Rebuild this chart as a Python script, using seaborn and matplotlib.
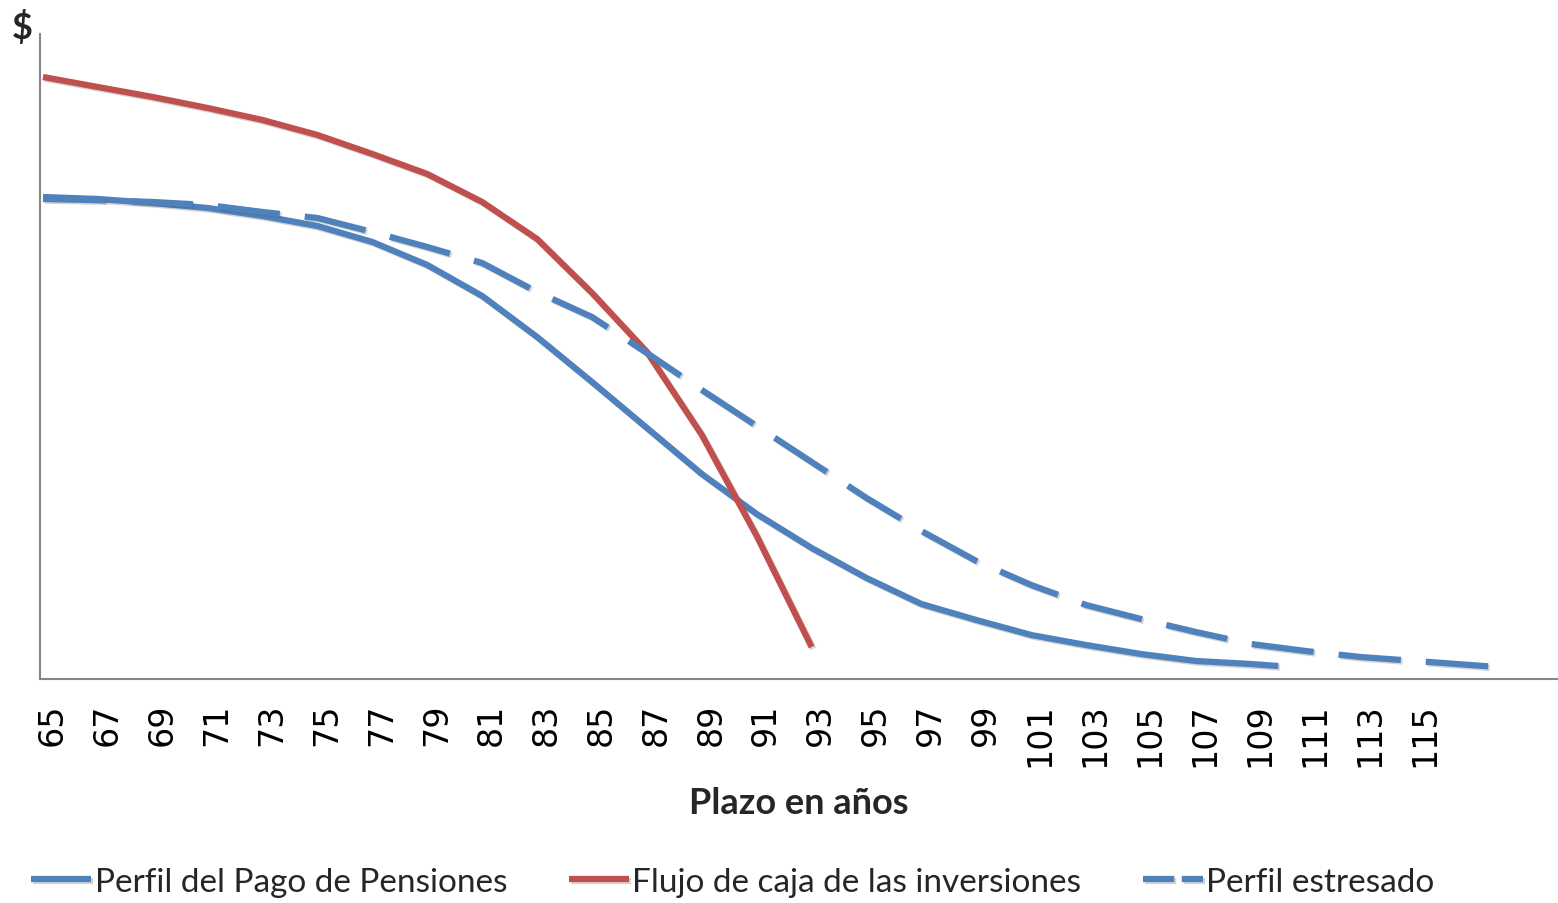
import matplotlib
matplotlib.use("Agg")

import matplotlib.pyplot as plt
import matplotlib.patheffects as pe
import matplotlib.transforms as mtransforms
from matplotlib.lines import Line2D
import seaborn as sns

# ---------------------------------------------------------------------------
# Data (arbitrary $ units)
# ---------------------------------------------------------------------------
pension_years = [65, 67, 69, 71, 73, 75, 77, 79, 81, 83, 85, 87, 89, 91,
                 93, 95, 97, 99, 101, 103, 105, 107, 109, 110]
pension_values = [482, 480, 476, 471, 463, 453, 437, 414, 383, 342, 297, 251,
                  205, 165, 131, 101, 75, 59, 44, 34, 25, 18, 15, 13]

invest_years = [65, 67, 69, 71, 73, 75, 77, 79, 81, 83, 85, 87, 89, 91, 93]
invest_values = [602, 592, 582, 571, 559, 544, 525, 505, 477, 440, 386, 327,
                 244, 143, 32]

stress_years = [65, 67, 69, 71, 73, 75, 77, 79, 81, 83, 85, 87, 89, 91,
                93, 95, 97, 99, 101, 103, 105, 107, 109, 111, 113, 115, 117, 118]
stress_values = [480, 479, 477, 474, 467, 461, 447, 432, 416, 387, 362, 326,
                 289, 253, 217, 181, 148, 118, 94, 74, 60, 47, 35, 28, 22, 18,
                 14, 12]

tick_years = list(range(65, 116, 2))

labels = ["Perfil del Pago de Pensiones",
          "Flujo de caja de las inversiones",
          "Perfil estresado"]

BLUE = "#4F81BD"
RED = "#C0504D"
AXIS_GREY = "#868686"
LW = 4.5
DASH = (10, 4)

sns.set_theme(style="white")
plt.rcParams["font.family"] = ["Lato", "DejaVu Sans"]

fig = plt.figure(figsize=(15.58, 9.04), dpi=100)
ax = fig.add_axes([40 / 1558, 1 - 680 / 904, 1 - 40 / 1558, (680 - 35) / 904])

shadow = [pe.SimpleLineShadow(offset=(1.2, -1.2), alpha=0.25, shadow_color="#555555"),
          pe.Normal()]

sns.lineplot(x=pension_years, y=pension_values, ax=ax, color=BLUE, lw=LW,
             path_effects=shadow)
sns.lineplot(x=invest_years, y=invest_values, ax=ax, color=RED, lw=LW,
             path_effects=shadow)
sns.lineplot(x=stress_years, y=stress_values, ax=ax, color=BLUE, lw=LW,
             path_effects=shadow)
ax.lines[-1].set_dashes(DASH)
for ln in ax.lines:
    ln.set_solid_capstyle("butt")
    ln.set_dash_capstyle("butt")

ax.set_xlim(64.89, 120.19)
ax.set_ylim(0, 645)

ax.set_yticks([])
ax.set_xticks(tick_years)
ax.set_xticklabels([str(t) for t in tick_years], rotation=90,
                   fontsize=24, family="DejaVu Sans", va="top")
ax.tick_params(axis="x", length=0, pad=17, colors="black")
shift = mtransforms.ScaledTranslation(9 / 100, 0, fig.dpi_scale_trans)
for lab in ax.get_xticklabels():
    lab.set_transform(lab.get_transform() + shift)

for side in ["top", "right"]:
    ax.spines[side].set_visible(False)
for side in ["left", "bottom"]:
    ax.spines[side].set_color(AXIS_GREY)
    ax.spines[side].set_linewidth(1.5)

ax.set_xlabel("Plazo en años", fontsize=26, fontweight="bold", labelpad=14)
ax.set_ylabel("")

fig.text(22 / 1558, 1 - 28 / 904, "$", fontsize=26, fontweight="bold",
         ha="center", va="center")

handles = [
    Line2D([], [], color=BLUE, lw=LW, solid_capstyle="butt", path_effects=shadow),
    Line2D([], [], color=RED, lw=LW, solid_capstyle="butt", path_effects=shadow),
    Line2D([], [], color=BLUE, lw=LW, dashes=(5, 1.2), dash_capstyle="butt",
           path_effects=shadow),
]
fig.legend(handles, labels, loc="center", bbox_to_anchor=(733 / 1558, 1 - 883 / 904),
           ncol=3, frameon=False, fontsize=24, handlelength=1.8,
           handletextpad=0.1, columnspacing=1.85, borderaxespad=0)

fig.savefig("out.png", dpi=100, facecolor="white")
